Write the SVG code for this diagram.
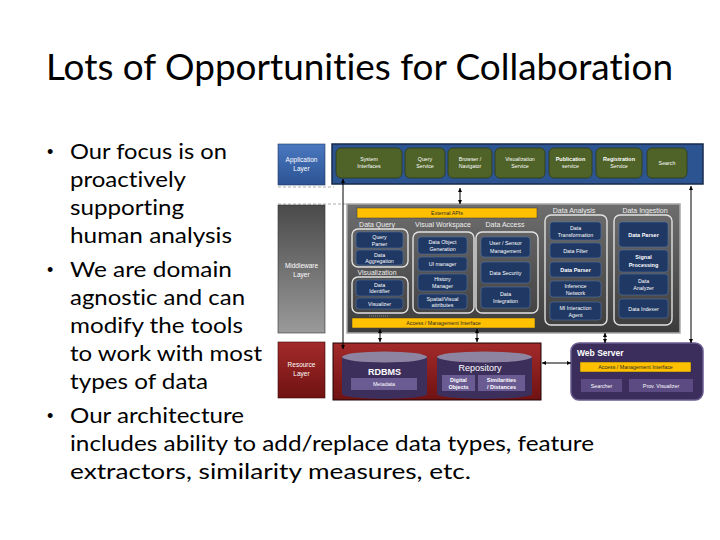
<svg xmlns="http://www.w3.org/2000/svg" width="720" height="540" viewBox="0 0 720 540">
<defs>
<style>
text{font-family:"Liberation Sans",Arial,sans-serif}
.title{font-size:37px;fill:#000;font-family:Lato,"Liberation Sans",sans-serif;font-variant-ligatures:none}
.bl{font-size:22px;fill:#000;font-family:Lato,"Liberation Sans",sans-serif;font-variant-ligatures:none}
.dot{font-size:18px;fill:#000;font-family:"Liberation Sans",sans-serif}
.s{font-size:5.3px;fill:#fff;text-anchor:middle}
.sb{font-size:5.5px;fill:#fff;text-anchor:middle;font-weight:bold}
.hd{font-size:7px;fill:#eee;text-anchor:middle}
.lay{font-size:6.5px;fill:#fff;text-anchor:middle}
.y{font-size:5.3px;fill:#2a2a2a;text-anchor:middle}
.box{fill:#1F3864;stroke:#5673a3;stroke-width:0.6}
.grp{fill:none;stroke:#e2e2e2;stroke-width:1.4}
.gbox{fill:#4F6228;stroke:#2e3b16;stroke-width:0.8}
.yel{fill:#FFC000;stroke:#3a3a3a;stroke-width:0.5}
.pbox{fill:#6B5B93}
.dash{stroke:#9a9a9a;stroke-width:0.8;stroke-dasharray:3,2;fill:none}
.arr{stroke:#000;stroke-width:1;fill:none;marker-start:url(#ah);marker-end:url(#ah)}
</style>
<marker id="ah" viewBox="0 0 6 6" refX="6" refY="3" markerWidth="4" markerHeight="4" orient="auto-start-reverse" markerUnits="userSpaceOnUse"><path d="M0,0 L6,3 L0,6 z" fill="#000"/></marker>
<linearGradient id="gApp" x1="0" y1="0" x2="0" y2="1"><stop offset="0" stop-color="#4a78c0"/><stop offset="1" stop-color="#2c5394"/></linearGradient>
<linearGradient id="gMidL" x1="0" y1="0" x2="0" y2="1"><stop offset="0" stop-color="#4a4a4a"/><stop offset="1" stop-color="#9a9a9a"/></linearGradient>
<linearGradient id="gMid" x1="0" y1="0" x2="0" y2="1"><stop offset="0" stop-color="#6e6e6e"/><stop offset="1" stop-color="#3c3c3c"/></linearGradient>
<linearGradient id="gRes" x1="0" y1="0" x2="0" y2="1"><stop offset="0" stop-color="#a32a2a"/><stop offset="1" stop-color="#701212"/></linearGradient>
</defs>
<rect width="720" height="540" fill="#fff"/>
<g id="title"><text class="title" x="46" y="80" textLength="627" lengthAdjust="spacingAndGlyphs">Lots of Opportunities for Collaboration</text></g>
<g id="bullets">
<text class="dot" x="47" y="158">•</text>
<text class="bl" x="70" y="159" textLength="157" lengthAdjust="spacingAndGlyphs">Our focus is on</text>
<text class="bl" x="70" y="187" textLength="116" lengthAdjust="spacingAndGlyphs">proactively</text>
<text class="bl" x="70" y="215" textLength="114" lengthAdjust="spacingAndGlyphs">supporting</text>
<text class="bl" x="70" y="243" textLength="162" lengthAdjust="spacingAndGlyphs">human analysis</text>
<text class="dot" x="47" y="276">•</text>
<text class="bl" x="70" y="277" textLength="162" lengthAdjust="spacingAndGlyphs">We are domain</text>
<text class="bl" x="70" y="305" textLength="175" lengthAdjust="spacingAndGlyphs">agnostic and can</text>
<text class="bl" x="70" y="333" textLength="173" lengthAdjust="spacingAndGlyphs">modify the tools</text>
<text class="bl" x="70" y="361" textLength="192" lengthAdjust="spacingAndGlyphs">to work with most</text>
<text class="bl" x="70" y="389" textLength="138" lengthAdjust="spacingAndGlyphs">types of data</text>
<text class="dot" x="47" y="422">•</text>
<text class="bl" x="70" y="423" textLength="174" lengthAdjust="spacingAndGlyphs">Our architecture</text>
<text class="bl" x="70" y="451" textLength="524" lengthAdjust="spacingAndGlyphs">includes ability to add/replace data types, feature</text>
<text class="bl" x="70" y="479" textLength="401" lengthAdjust="spacingAndGlyphs">extractors, similarity measures, etc.</text>
</g>
<g id="layer-lines">
<line class="dash" x1="278" y1="187" x2="334" y2="187"/>
<line class="dash" x1="278" y1="204" x2="347" y2="204"/>
</g>
<g id="application-layer">
<rect x="278" y="144" width="47" height="41" fill="url(#gApp)" stroke="#1f3864" stroke-width="0.6"/>
<text class="lay" x="301.5" y="162">Application</text><text class="lay" x="301.5" y="171">Layer</text>
</g>
<g id="application-panel">
<rect x="332" y="144" width="371" height="40" fill="#2C5491" stroke="#16294d" stroke-width="1.5"/>
</g>
<g id="system-interfaces"><rect class="gbox" x="336" y="148" width="66" height="30" rx="5"/><text class="s" x="369" y="161">System</text><text class="s" x="369" y="168">Interfaces</text></g>
<g id="query-service"><rect class="gbox" x="405" y="148" width="40" height="30" rx="5"/><text class="s" x="425" y="161">Query</text><text class="s" x="425" y="168">Service</text></g>
<g id="browser-navigator"><rect class="gbox" x="448" y="148" width="44" height="30" rx="5"/><text class="s" x="470" y="161">Browser /</text><text class="s" x="470" y="168">Navigator</text></g>
<g id="visualization-service"><rect class="gbox" x="495" y="148" width="50" height="30" rx="5"/><text class="s" x="520" y="161">Visualization</text><text class="s" x="520" y="168">Service</text></g>
<g id="publication-service"><rect class="gbox" x="549" y="148" width="43" height="30" rx="5"/><text class="sb" x="570.5" y="161">Publication</text><text class="s" x="570.5" y="168">service</text></g>
<g id="registration-service"><rect class="gbox" x="596" y="148" width="46" height="30" rx="5"/><text class="sb" x="619" y="161">Registration</text><text class="s" x="619" y="168">Service</text></g>
<g id="search"><rect class="gbox" x="647" y="148" width="40" height="30" rx="5"/><text class="s" x="667" y="165">Search</text></g>

<g id="middleware-layer">
<rect x="278" y="205" width="47" height="128" fill="url(#gMidL)" stroke="#333" stroke-width="0.6"/>
<text class="lay" x="301.5" y="268">Middleware</text><text class="lay" x="301.5" y="277">Layer</text>
</g>
<g id="middleware-panel">
<rect x="347" y="204" width="333" height="129" fill="url(#gMid)" stroke="#a8a8a8" stroke-width="1.5"/>
</g>
<g id="external-apis"><rect class="yel" x="357" y="208" width="180" height="10"/><text class="y" x="447" y="215">External APIs</text></g>
<g id="data-query">
<text class="hd" x="377" y="227">Data Query</text>
<rect class="grp" x="352" y="229" width="56" height="38" rx="6"/>
</g>
<g id="query-parser"><rect class="box" x="356" y="232" width="47" height="16" rx="3"/><text class="s" x="379.5" y="239">Query</text><text class="s" x="379.5" y="245.5">Parser</text></g>
<g id="data-aggregation"><rect class="box" x="356" y="250" width="47" height="15" rx="3"/><text class="s" x="379.5" y="256.5">Data</text><text class="s" x="379.5" y="263">Aggregation</text></g>
<g id="visualization">
<text class="hd" x="377" y="275">Visualization</text>
<rect class="grp" x="352" y="277" width="56" height="36" rx="6"/>
<line x1="369" y1="316" x2="389" y2="316" stroke="#9a9a9a" stroke-width="0.8" stroke-dasharray="1,1"/>
</g>
<g id="data-identifier"><rect class="box" x="356" y="280" width="47" height="16" rx="3"/><text class="s" x="379.5" y="286.5">Data</text><text class="s" x="379.5" y="293">Identifier</text></g>
<g id="visualizer"><rect class="box" x="356" y="298" width="47" height="11" rx="3"/><text class="s" x="379.5" y="305.5">Visualizer</text></g>
<g id="visual-workspace">
<text class="hd" x="443" y="227">Visual Workspace</text>
<rect class="grp" x="413" y="232" width="61" height="81" rx="6"/>
</g>
<g id="data-object-generation"><rect class="box" x="418" y="237" width="49" height="17" rx="3"/><text class="s" x="442.5" y="244">Data Object</text><text class="s" x="442.5" y="251">Generation</text></g>
<g id="ui-manager"><rect class="box" x="418" y="257" width="49" height="14" rx="3"/><text class="s" x="442.5" y="266">UI manager</text></g>
<g id="history-manager"><rect class="box" x="418" y="274" width="49" height="17" rx="3"/><text class="s" x="442.5" y="281">History</text><text class="s" x="442.5" y="288">Manager</text></g>
<g id="spatial-visual-attributes"><rect class="box" x="418" y="294" width="49" height="15" rx="3"/><text class="s" x="442.5" y="300.5">Spatial/Visual</text><text class="s" x="442.5" y="307">attributes</text></g>
<g id="data-access">
<text class="hd" x="505" y="227">Data Access</text>
<rect class="grp" x="476" y="232" width="62" height="81" rx="6"/>
</g>
<g id="user-sensor-management"><rect class="box" x="481" y="237" width="49" height="20" rx="3"/><text class="s" x="505.5" y="245">User / Sensor</text><text class="s" x="505.5" y="252.5">Management</text></g>
<g id="data-security"><rect class="box" x="481" y="262" width="49" height="21" rx="3"/><text class="s" x="505.5" y="274.5">Data Security</text></g>
<g id="data-integration"><rect class="box" x="481" y="287" width="49" height="21" rx="3"/><text class="s" x="505.5" y="295.5">Data</text><text class="s" x="505.5" y="303">Integration</text></g>
<g id="data-analysis">
<text class="hd" x="574" y="213">Data Analysis</text>
<rect class="grp" x="545" y="215" width="62" height="110" rx="6"/>
</g>
<g id="data-transformation"><rect class="box" x="550" y="222" width="51" height="18" rx="3"/><text class="s" x="575.5" y="229.5">Data</text><text class="s" x="575.5" y="236.5">Transformation</text></g>
<g id="data-filter"><rect class="box" x="550" y="243" width="51" height="15" rx="3"/><text class="s" x="575.5" y="252.5">Data Filter</text></g>
<g id="data-parser-1"><rect class="box" x="550" y="262" width="51" height="15" rx="3"/><text class="sb" x="575.5" y="271.5">Data Parser</text></g>
<g id="inference-network"><rect class="box" x="550" y="281" width="51" height="16" rx="3"/><text class="s" x="575.5" y="287.5">Inference</text><text class="s" x="575.5" y="294.5">Network</text></g>
<g id="mi-interaction-agent"><rect class="box" x="550" y="302" width="51" height="18" rx="3"/><text class="s" x="575.5" y="309.5">MI Interaction</text><text class="s" x="575.5" y="316.5">Agent</text></g>
<g id="data-ingestion">
<text class="hd" x="645" y="213">Data Ingestion</text>
<rect class="grp" x="614" y="215" width="58" height="110" rx="6"/>
</g>
<g id="data-parser-2"><rect class="box" x="619" y="222" width="49" height="25" rx="3"/><text class="sb" x="643.5" y="236.5">Data Parser</text></g>
<g id="signal-processing"><rect class="box" x="619" y="250" width="49" height="22" rx="3"/><text class="sb" x="643.5" y="259">Signal</text><text class="sb" x="643.5" y="266.5">Processing</text></g>
<g id="data-analyzer"><rect class="box" x="619" y="274" width="49" height="21" rx="3"/><text class="s" x="643.5" y="283">Data</text><text class="s" x="643.5" y="290">Analyzer</text></g>
<g id="data-indexer"><rect class="box" x="619" y="299" width="49" height="19" rx="3"/><text class="s" x="643.5" y="310.5">Data Indexer</text></g>
<g id="access-management-interface"><rect class="yel" x="352" y="318" width="183" height="10"/><text class="y" x="443.5" y="325">Access / Management Interface</text></g>

<g id="resource-layer">
<rect x="278" y="342" width="47" height="56" fill="url(#gRes)" stroke="#3a0808" stroke-width="0.6"/>
<text class="lay" x="301.5" y="367">Resource</text><text class="lay" x="301.5" y="376">Layer</text>
</g>
<g id="resource-panel">
<rect x="333" y="343" width="208" height="57" fill="url(#gRes)" stroke="#1e0505" stroke-width="1"/>
</g>
<g id="rdbms">
<path d="M342,357 L342,394 A42.5,5 0 0 0 427,394 L427,357 Z" fill="#3D2F5B"/>
<ellipse cx="384.5" cy="357" rx="42.5" ry="5.5" fill="#8C84A0"/>
<text x="384.5" y="375" font-size="9" font-weight="bold" fill="#fff" text-anchor="middle">RDBMS</text>
<rect class="pbox" x="351" y="378" width="66" height="12"/><text class="s" x="384" y="386">Metadata</text>
</g>
<g id="repository">
<path d="M437,357 L437,394 A47.5,5 0 0 0 532,394 L532,357 Z" fill="#3D2F5B"/>
<ellipse cx="484.5" cy="357" rx="47.5" ry="5.5" fill="#8C84A0"/>
<text x="480" y="371" font-size="9" fill="#fff" text-anchor="middle">Repository</text>
<rect class="pbox" x="442" y="375" width="33" height="16"/><text class="sb" x="458.5" y="381.5">Digital</text><text class="sb" x="458.5" y="388.5">Objects</text>
<rect class="pbox" x="478" y="375" width="47" height="16"/><text class="sb" x="501.5" y="381.5">Similarities</text><text class="sb" x="501.5" y="388.5">/ Distances</text>
</g>
<g id="web-server">
<rect x="571" y="343" width="132" height="57" rx="8" fill="#3B2D5C" stroke="#6A5C90" stroke-width="1.5"/>
<text x="577" y="356" font-size="8.5" font-weight="bold" fill="#fff">Web Server</text>
<rect class="yel" x="580" y="362" width="111" height="10"/><text class="y" x="635.5" y="369.3">Access / Management Interface</text>
<rect fill="#5B4B82" x="581" y="379" width="41" height="13"/><text class="s" x="601.5" y="387.5">Searcher</text>
<rect fill="#5B4B82" x="629" y="379" width="64" height="13"/><text class="s" x="661" y="387.5">Prov. Visualizer</text>
</g>
<g id="connectors">
<line class="arr" x1="343" y1="179" x2="343" y2="349"/>
<line class="arr" x1="460" y1="188" x2="460" y2="204"/>
<line class="arr" x1="691" y1="186" x2="691" y2="343"/>
<line class="arr" x1="380" y1="329" x2="380" y2="342"/>
<line class="arr" x1="477" y1="329" x2="477" y2="342"/>
<line class="arr" x1="605" y1="333" x2="605" y2="343"/>
<line class="arr" x1="542" y1="363" x2="571" y2="363"/>
</g>
</svg>
